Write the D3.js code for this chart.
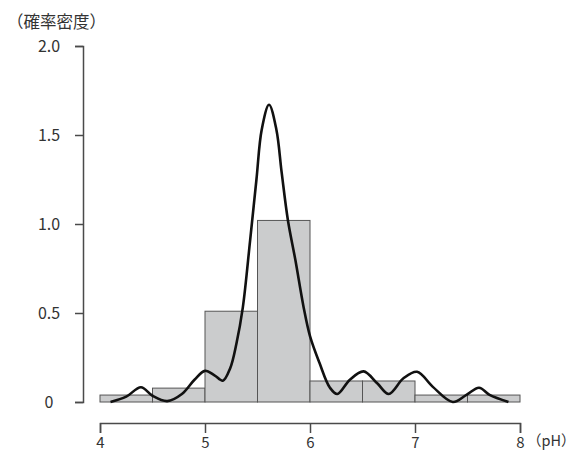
<!DOCTYPE html>
<html>
<head>
<meta charset="utf-8">
<script src="https://cdn.jsdelivr.net/npm/d3@7"></script>
<style>
  body { margin: 0; background: #fff; }
  svg { display: block; }
  text { font-family: "Noto Sans CJK JP", "Noto Sans", sans-serif; fill: #333; }
</style>
</head>
<body>
<div id="chart"></div>
<script>
// ヒストグラム（階級幅 0.5、確率密度）
const binStarts = [4.0, 4.5, 5.0, 5.5, 6.0, 6.5, 7.0, 7.5];
const binDensity = [0.039, 0.078, 0.51, 1.02, 0.118, 0.118, 0.039, 0.039];
const binWidth = 0.5;

// 密度曲線（図から読み取った点）
const curvePH = [4.10, 4.25, 4.39, 4.50, 4.64, 4.78, 4.90, 5.00, 5.09, 5.17, 5.24, 5.30, 5.36, 5.43, 5.49, 5.54, 5.61, 5.68, 5.73, 5.79, 5.86, 5.94, 6.00, 6.09, 6.19, 6.26, 6.38, 6.51, 6.64, 6.75, 6.89, 7.02, 7.17, 7.36, 7.49, 7.61, 7.71, 7.89];
const curveDensity = [0.0, 0.03, 0.083, 0.035, 0.005, 0.045, 0.125, 0.175, 0.15, 0.12, 0.19, 0.33, 0.53, 0.91, 1.25, 1.53, 1.67, 1.53, 1.29, 1.02, 0.80, 0.53, 0.37, 0.22, 0.08, 0.045, 0.125, 0.172, 0.105, 0.045, 0.133, 0.17, 0.085, 0.0, 0.04, 0.08, 0.04, 0.0];

const xTicks = [4, 5, 6, 7, 8];
const yTicks = [0, 0.5, 1.0, 1.5, 2.0];
const yTickLabels = ["0", "0.5", "1.0", "1.5", "2.0"];

const width = 577;
const height = 453;

const svg = d3.select("#chart")
  .append("svg")
  .attr("width", width)
  .attr("height", height);

const xScale = d3.scaleLinear().domain([4, 8]).range([100, 520]);
const yScale = d3.scaleLinear().domain([0, 2]).range([402, 46]);

// 棒
svg.append("g")
  .selectAll("rect")
  .data(binStarts)
  .join("rect")
  .attr("x", (d) => xScale(d))
  .attr("y", (d, i) => yScale(binDensity[i]))
  .attr("width", (d) => xScale(d + binWidth) - xScale(d))
  .attr("height", (d, i) => yScale(0) - yScale(binDensity[i]))
  .attr("fill", "#cbcccd")
  .attr("stroke", "#555")
  .attr("stroke-width", 1);

// 曲線
const line = d3.line()
  .x((d, i) => xScale(curvePH[i]))
  .y((d) => yScale(d))
  .curve(d3.curveCatmullRom.alpha(0.5));

svg.append("path")
  .attr("d", line(curveDensity))
  .attr("fill", "none")
  .attr("stroke", "#111")
  .attr("stroke-width", 2.6);

// y 軸
const yAxis = d3.axisLeft(yScale)
  .tickValues(yTicks)
  .tickFormat((d, i) => yTickLabels[i])
  .tickSize(8)
  .tickPadding(14);

const yg = svg.append("g")
  .attr("transform", "translate(83,0)")
  .call(yAxis);
yg.selectAll("text")
  .attr("text-anchor", "middle")
  .attr("x", -34)
  .style("font-size", "16px");

// x 軸（下端に収まるよう少し詰める）
const xAxis = d3.axisBottom(xScale)
  .tickValues(xTicks)
  .tickFormat(d3.format("d"))
  .tickSize(10)
  .tickPadding(4);

const xg = svg.append("g")
  .attr("transform", "translate(0,423)")
  .call(xAxis);
xg.selectAll("text").style("font-size", "15px");

svg.selectAll(".domain, .tick line")
  .attr("stroke", "#4a4a4a")
  .attr("stroke-width", 1.5);

// 軸ラベル
svg.append("text")
  .attr("x", 7)
  .attr("y", 28)
  .style("font-size", "16.5px")
  .text("（確率密度）");

svg.append("text")
  .attr("x", 527)
  .attr("y", 446)
  .style("font-size", "14.5px")
  .text("（pH）");
</script>
</body>
</html>
